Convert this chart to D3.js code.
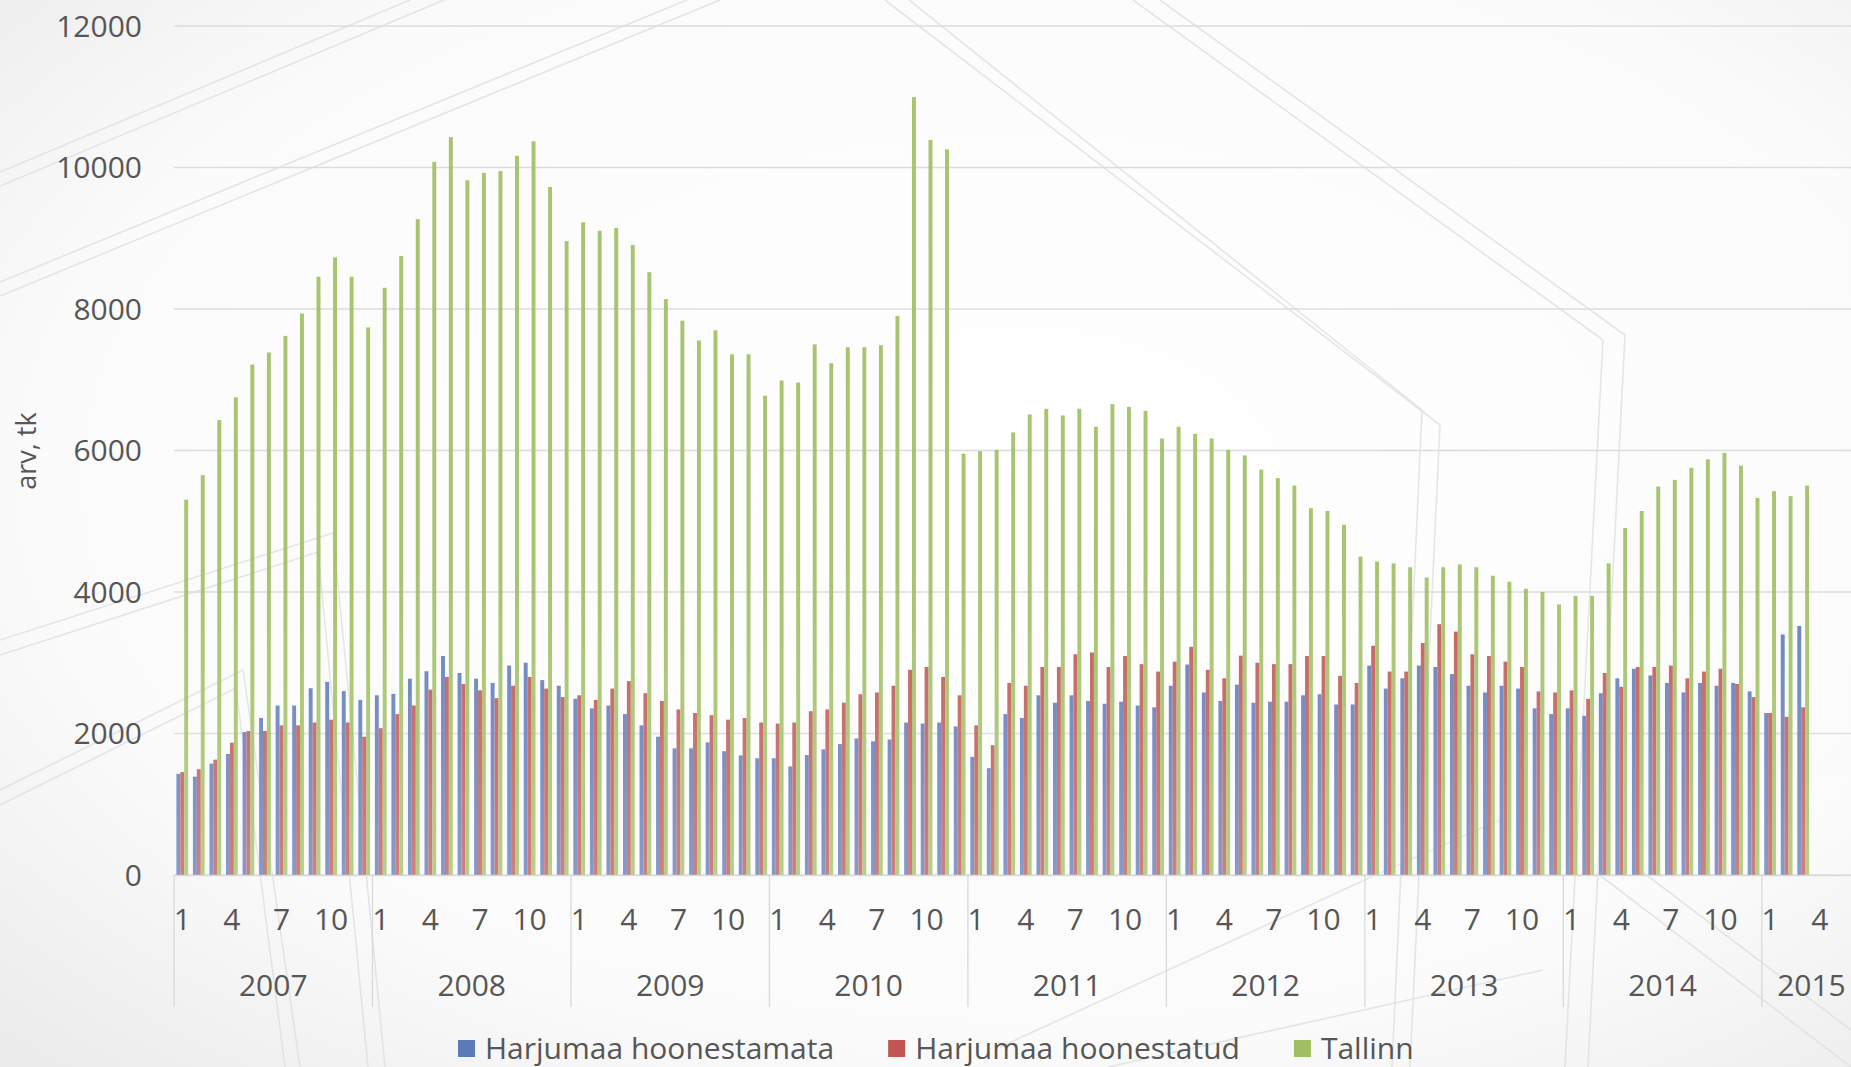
<!DOCTYPE html>
<html><head><meta charset="utf-8">
<script src="https://cdn.jsdelivr.net/npm/d3@7"></script>
<style>body{margin:0;background:#fff;overflow:hidden} svg{display:block}</style>
</head><body><svg id="c" width="1851" height="1067"></svg>
<script>
// ---------- data ----------
const years = [2007, 2008, 2009, 2010, 2011, 2012, 2013, 2014, 2015];
const monthsPerYear = [12, 12, 12, 12, 12, 12, 12, 12, 6];
const monthTickLabels = [1, 4, 7, 10];
const yTicks = [0, 2000, 4000, 6000, 8000, 10000, 12000];
const seriesNames = ["Harjumaa hoonestamata", "Harjumaa hoonestatud", "Tallinn"];
const seriesColors = ["#5d79b8", "#bf5652", "#a0bf62"];
const yAxisTitle = "arv, tk";

const harjumaaHoonestamata = [
  1430, 1390, 1575, 1710, 2020, 2220, 2395, 2395, 2640, 2730, 2600, 2475,
  2540, 2560, 2775, 2880, 3095, 2855, 2775, 2715, 2960, 3000, 2755, 2675,
  2490, 2355, 2395, 2275, 2115, 1955, 1790, 1790, 1875, 1750, 1690, 1650,
  1650, 1535, 1695, 1775, 1850, 1930, 1890, 1915, 2155, 2140, 2155, 2100,
  1670, 1510, 2275, 2220, 2540, 2435, 2540, 2460, 2420, 2450, 2395, 2370,
  2675, 2975, 2580, 2460, 2690, 2435, 2450, 2450, 2540, 2555, 2410, 2410,
  2960, 2635, 2780, 2960, 2940, 2840, 2675, 2580, 2675, 2635, 2355, 2275,
  2355, 2250, 2570, 2780, 2915, 2820, 2715, 2580, 2715, 2675, 2715, 2595,
  2290, 3400, 3520, null, null, null
];
const harjumaaHoonestatud = [
  1455, 1495, 1630, 1870, 2035, 2035, 2115, 2115, 2155, 2195, 2155, 1955,
  2075, 2275, 2395, 2620, 2800, 2700, 2610, 2500, 2675, 2800, 2635, 2515,
  2540, 2475, 2635, 2740, 2570, 2460, 2340, 2290, 2260, 2195, 2220, 2155,
  2140, 2155, 2315, 2340, 2435, 2555, 2580, 2675, 2900, 2940, 2800, 2540,
  2115, 1835, 2715, 2675, 2940, 2940, 3120, 3145, 2940, 3095, 2980, 2875,
  3015, 3225, 2900, 2780, 3100, 3000, 2980, 2980, 3095, 3095, 2815, 2715,
  3240, 2875, 2875, 3280, 3545, 3440, 3120, 3095, 3015, 2940, 2595, 2580,
  2610, 2490, 2855, 2660, 2940, 2940, 2960, 2780, 2875, 2915, 2700, 2515,
  2290, 2235, 2370, null, null, null
];
const tallinn = [
  5305, 5650, 6430, 6750, 7215, 7385, 7620, 7935, 8455, 8730, 8455, 7740,
  8300, 8750, 9270, 10080, 10430, 9820, 9925, 9950, 10165, 10370, 9725, 8960,
  9225, 9105, 9145, 8905, 8520, 8140, 7835, 7555, 7700, 7360, 7360, 6775,
  6990, 6960, 7500, 7235, 7460, 7460, 7490, 7900, 10995, 10390, 10255, 5955,
  5990, 6010, 6255, 6510, 6590, 6495, 6590, 6335, 6655, 6615, 6560, 6170,
  6335, 6235, 6170, 6010, 5930, 5730, 5610, 5505, 5185, 5145, 4950, 4500,
  4430, 4405, 4350, 4205, 4350, 4390, 4350, 4230, 4145, 4045, 4000, 3825,
  3945, 3945, 4405, 4905, 5145, 5490, 5585, 5755, 5875, 5965, 5785, 5330,
  5425, 5355, 5505, null, null, null
];
const seriesValues = [harjumaaHoonestamata, harjumaaHoonestatud, tallinn];

// ---------- build categories ----------
const cats = [];
years.forEach((yr, yi) => { for (let m = 1; m <= monthsPerYear[yi]; m++) cats.push({year: yr, month: m, key: yr + "-" + m}); });

const W = 1851, H = 1067;
const plotLeft = 174, stepPx = 16.54, plotTop = 26, plotBottom = 875;
const svg = d3.select("#c");
const FONT = "'Open Sans', 'Liberation Sans', sans-serif";
const TXT = "#565656";
const FS = 30;

// background
const defs = svg.append("defs");
const rg = defs.append("radialGradient").attr("id", "bg").attr("cx", "55%").attr("cy", "45%").attr("r", "75%");
rg.append("stop").attr("offset", "0%").attr("stop-color", "#ffffff");
rg.append("stop").attr("offset", "70%").attr("stop-color", "#fbfbfb");
rg.append("stop").attr("offset", "100%").attr("stop-color", "#ececec");
svg.append("rect").attr("width", W).attr("height", H).attr("fill", "url(#bg)");

// decorative background strokes (slide artwork)
const deco = [
  [[0,172],[410,0]], [[0,186],[444,0]],
  [[0,282],[687,0]], [[0,296],[720,0]],
  [[909,0],[1422,410],[1392,1067]], [[885,0],[1440,425],[1410,1067]],
  [[1133,0],[1603,340],[1565,1067]], [[1160,0],[1625,335],[1588,1067]],
  [[0,640],[333,533],[385,1067]], [[0,655],[318,552],[368,1067]],
  [[0,790],[243,670],[300,1067]], [[0,805],[236,688],[285,1067]],
  [[1000,1047],[1380,873],[1500,820]], [[1108,1067],[1543,970]],
  [[1597,873],[1851,1067]], [[1640,870],[1851,1030]]
];
svg.append("g").selectAll("path").data(deco).join("path")
  .attr("d", d => d3.line()(d)).attr("fill", "none")
  .attr("stroke", "#dce0e3").attr("stroke-width", 1.6).attr("opacity", 0.8);

// scales
const x = d3.scaleBand().domain(cats.map(c => c.key))
  .range([plotLeft, plotLeft + stepPx * cats.length]).paddingInner(0.29).paddingOuter(0.145);
const xs = d3.scaleBand().domain([0, 1, 2]).range([0, x.bandwidth()]);
const y = d3.scaleLinear().domain([0, 12000]).range([plotBottom, plotTop]);

// gridlines
svg.append("g").selectAll("line").data(yTicks).join("line")
  .attr("x1", plotLeft).attr("x2", W).attr("y1", d => y(d)).attr("y2", d => y(d))
  .attr("stroke", "#dcdcdc").attr("stroke-width", 1.3);

// y labels
svg.append("g").selectAll("text").data(yTicks).join("text")
  .attr("x", 142).attr("y", d => y(d) + 10.5).attr("text-anchor", "end")
  .attr("font-family", FONT).attr("font-size", FS).attr("fill", TXT).text(d => d);

svg.append("text").attr("transform", `translate(${36},${451}) rotate(-90)`)
  .attr("text-anchor", "middle").attr("font-family", FONT).attr("font-size", 27)
  .attr("fill", TXT).text(yAxisTitle);

// bars
const gBars = svg.append("g");
seriesValues.forEach((vals, si) => {
  gBars.append("g").selectAll("rect")
    .data(cats.map((c, i) => ({c, v: vals[i]})).filter(d => d.v != null))
    .join("rect")
    .attr("x", d => x(d.c.key) + xs(si)).attr("width", xs.bandwidth())
    .attr("y", d => y(d.v)).attr("height", d => y(0) - y(d.v))
    .attr("fill", seriesColors[si]).attr("opacity", 0.92);
});

// slight fading of the lower area as in the slide
const lg = defs.append("linearGradient").attr("id", "fade").attr("x1", 0).attr("x2", 0).attr("y1", 0).attr("y2", 1);
lg.append("stop").attr("offset", "0%").attr("stop-color", "#fff").attr("stop-opacity", 0);
lg.append("stop").attr("offset", "100%").attr("stop-color", "#fff").attr("stop-opacity", 0.18);
svg.append("rect").attr("x", plotLeft).attr("y", 560).attr("width", W - plotLeft).attr("height", plotBottom - 560).attr("fill", "url(#fade)");

// axis line
svg.append("line").attr("x1", plotLeft).attr("x2", W).attr("y1", plotBottom + 0.5).attr("y2", plotBottom + 0.5)
  .attr("stroke", "#d9d9d9").attr("stroke-width", 1.3);

// month labels
svg.append("g").selectAll("text").data(cats.filter(c => monthTickLabels.includes(c.month))).join("text")
  .attr("x", d => x(d.key) + x.bandwidth() / 2).attr("y", 930).attr("text-anchor", "middle")
  .attr("font-family", FONT).attr("font-size", FS).attr("fill", TXT).text(d => d.month);

// year separators and labels
let startIdx = 0;
const yearInfo = years.map((yr, yi) => { const s = startIdx; startIdx += monthsPerYear[yi]; return {yr, s, e: startIdx}; });
const bx = i => plotLeft + x.step() * i;
svg.append("g").selectAll("line").data([0].concat(yearInfo.map(d => d.e))).join("line")
  .attr("x1", d => bx(d)).attr("x2", d => bx(d)).attr("y1", plotBottom).attr("y2", 1007)
  .attr("stroke", "#d9d9d9").attr("stroke-width", 1.3);
svg.append("g").selectAll("text").data(yearInfo).join("text")
  .attr("x", d => (bx(d.s) + bx(d.e)) / 2).attr("y", 996).attr("text-anchor", "middle")
  .attr("font-family", FONT).attr("font-size", FS).attr("fill", TXT).text(d => d.yr);

// legend
const leg = svg.append("g");
let lx = 458;
seriesNames.forEach((n, i) => {
  leg.append("rect").attr("x", lx).attr("y", 1040).attr("width", 17).attr("height", 17).attr("fill", seriesColors[i]);
  const t = leg.append("text").attr("x", lx + 27).attr("y", 1059).attr("font-family", FONT)
    .attr("font-size", FS).attr("fill", TXT).text(n);
  lx += 27 + t.node().getComputedTextLength() + 54;
});
</script>
</body></html>
